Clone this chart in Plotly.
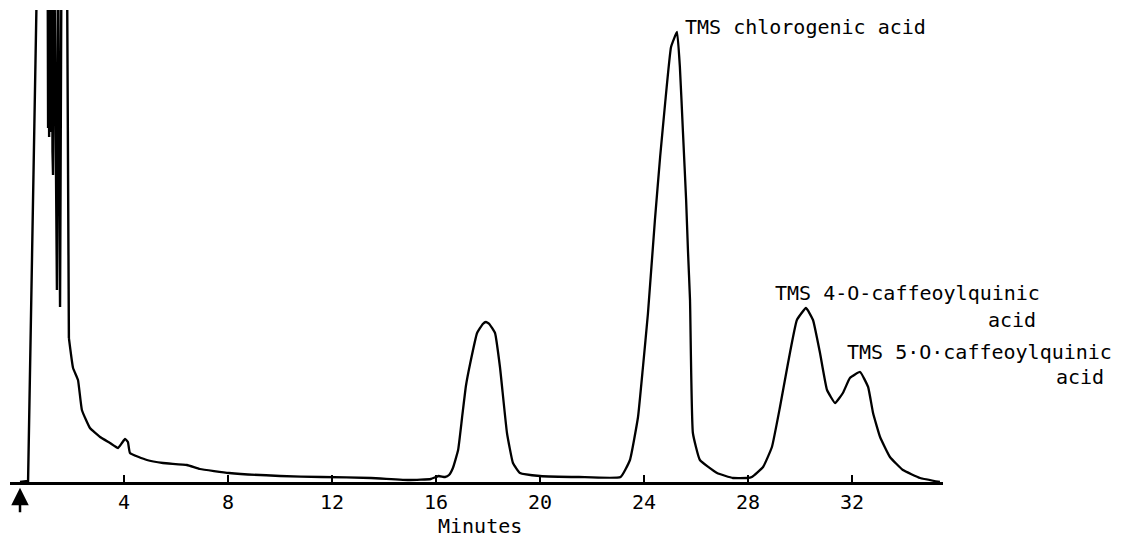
import plotly.graph_objects as go

# Retention time (minutes) and detector response (arbitrary units)
# solvent front (off-scale pen strokes)
solvent_time = [0.0, 0.31, 0.69, 1.06, 1.08, 1.1, 1.12, 1.14, 1.16, 1.18, 1.2, 1.22, 1.25,
                1.27, 1.31, 1.42, 1.46, 1.54, 1.6, 1.8, 1.88]
solvent_resp = [0, 1, 560, 560, 354, 560, 345, 560, 356, 560, 350, 560, 330,
                307, 560, 192, 560, 175, 560, 560, 144]

time_min = [1.88, 2.04, 2.23, 2.38, 2.69, 3.08, 3.46, 3.77, 3.92, 4.04, 4.15, 4.23, 4.88, 5.5, 6.42,
            6.92, 8.04, 10.0, 11.6, 13.5, 15.0, 15.8, 16.1, 16.35, 16.5,
            16.65, 16.85, 17.0, 17.15, 17.31, 17.58, 17.8, 17.92, 18.05, 18.27, 18.46, 18.73, 18.96,
            19.23, 20.0, 21.5, 23.1,
            23.46, 23.77, 23.96, 24.15, 24.42, 24.62, 24.81, 25.04, 25.27, 25.38, 25.5, 25.62,
            25.69, 25.77, 25.88, 26.15, 26.81, 27.42, 27.96,
            28.15, 28.58, 28.92, 29.23, 29.54, 29.88, 30.23, 30.5, 30.77, 31.04, 31.35, 31.65,
            31.92, 32.31, 32.62, 32.81, 33.08, 33.46, 33.96, 34.62, 35.38]
response = [144, 114, 102, 72, 54, 45, 39, 34, 39, 43, 40, 29, 22, 19, 17,
            13, 9, 6, 5, 4, 2, 3, 6, 5, 7,
            14, 32, 64, 96, 118, 149, 158, 160, 158, 149, 115, 49, 19,
            9, 6, 5, 5,
            22, 65, 115, 168, 262, 325, 378, 435, 450, 415, 349, 282,
            232, 182, 49, 22, 9, 4, 4,
            5, 15, 35, 75, 119, 162, 174, 162, 129, 92, 79, 89,
            104, 110, 95, 69, 45, 25, 12, 4, 0]

tick_vals = [4, 8, 12, 16, 20, 24, 28, 32]
tick_text = ["4", "8", "12", "16", "20", "24", "28", "32"]

peak_labels = ["TMS chlorogenic acid", "TMS 4-O-caffeoylquinic", "acid",
               "TMS 5·O·caffeoylquinic", "acid"]
x_title = "Minutes"

FONT = "DejaVu Sans Mono"

fig = go.Figure()
fig.add_trace(go.Scatter(
    x=solvent_time, y=solvent_resp, mode="lines",
    line=dict(color="black", width=2.4),
    showlegend=False, hoverinfo="skip",
))
fig.add_trace(go.Scatter(
    x=time_min, y=response, mode="lines",
    line=dict(color="black", width=2.3, shape="spline", smoothing=0.35),
    showlegend=False, hoverinfo="skip",
))

label_pos = [(0.7213, 0.964, "left"), (0.8178, 0.4004, "left"), (1.074, 0.3432, "center"),
             (0.895, 0.2754, "left"), (1.1468, 0.2225, "center")]
for txt, (px, py, anc) in zip(peak_labels, label_pos):
    fig.add_annotation(text=txt, xref="paper", yref="paper", x=px, y=py,
                       xanchor=anc, yanchor="middle", showarrow=False,
                       font=dict(family=FONT, size=20, color="black"))

fig.add_annotation(text=x_title, xref="x", yref="paper", x=17.7, y=-0.093,
                   xanchor="center", yanchor="middle", showarrow=False,
                   font=dict(family=FONT, size=20, color="black"))

# injection arrow
fig.add_annotation(text="", xref="x", yref="paper", x=0, y=-0.012,
                   ax=0, ay=26, showarrow=True, arrowhead=2, arrowsize=1.4,
                   arrowwidth=2.5, arrowcolor="black")

fig.update_layout(
    width=1125, height=530,
    margin=dict(l=2, r=190, t=2, b=56),
    paper_bgcolor="white", plot_bgcolor="white",
    xaxis=dict(range=[-0.385, 35.5], showgrid=False, zeroline=False,
               showline=True, linecolor="black", linewidth=3,
               ticks="inside", ticklen=7, tickwidth=2, tickcolor="black",
               tickvals=tick_vals, ticktext=tick_text, ticklabelstandoff=0,
               tickfont=dict(family=FONT, size=20, color="black")),
    yaxis=dict(range=[0, 472], visible=False),
)

fig.write_html("out.html")
